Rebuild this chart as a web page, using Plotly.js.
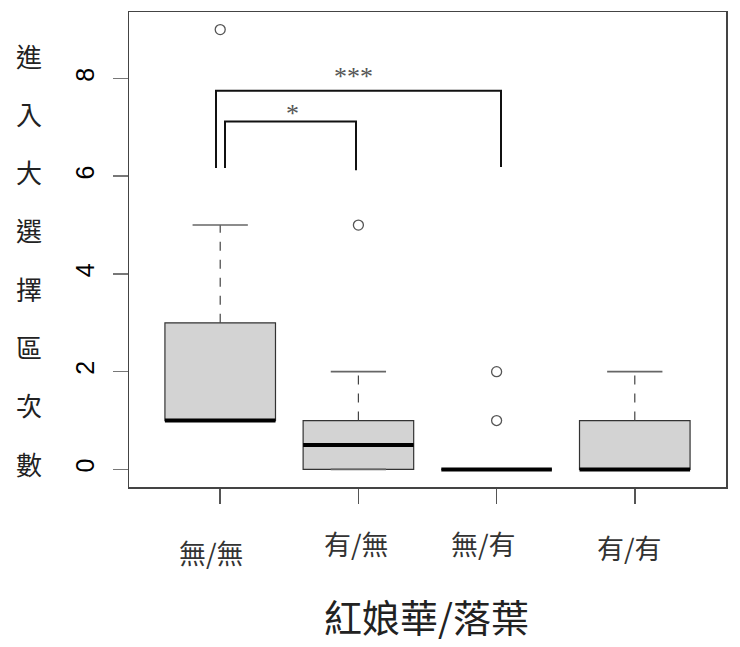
<!DOCTYPE html>
<html>
<head>
<meta charset="utf-8">
<script src="https://cdn.plot.ly/plotly-3.0.1.min.js"></script>
<style>
  html, body { margin: 0; padding: 0; background: #fff; }
  #plot { width: 740px; height: 647px; }
</style>
</head>
<body>
<div id="plot"></div>
<script>
// box summaries (R boxplot style)
let groups = ['無/無', '有/無', '無/有', '有/有'];
let q1 = [1, 0, 0, 0];
let medians = [1, 0.5, 0, 0];
let q3 = [3, 1, 0, 1];
let lowerWhisker = [1, 0, 0, 0];
let upperWhisker = [5, 2, 0, 2];
let outlierGroup = [1, 2, 3, 3];
let outlierValues = [9, 5, 1, 2];
let yTickVals = [0, 2, 4, 6, 8];
let yLabelChars = '進入大選擇區次數'.split('');
let xTitle = '紅娘華/落葉';
let sigLabels = ['*', '***'];

// plot area in pixels (frame box)
let plotLeft = 129, plotTop = 12, plotRight = 726, plotBottom = 487;
let plotW = plotRight - plotLeft;
let plotH = plotBottom - plotTop;
let xRange = [0.34, 4.66];
let px2x = px => (px - plotLeft) / plotW;
let px2y = py => (plotBottom - py) / plotH;
let px2data = px => xRange[0] + px2x(px) * (xRange[1] - xRange[0]);

let boxHalf = 0.4;
let capHalf = 0.2;
let cjk = '"Noto Sans CJK TC", "Noto Sans CJK SC", sans-serif';

let shapes = [];
groups.forEach((g, i) => {
  let x = i + 1;
  // box
  shapes.push({
    type: 'rect', xref: 'x', yref: 'y', layer: 'below',
    x0: x - boxHalf, x1: x + boxHalf, y0: q1[i], y1: q3[i],
    fillcolor: '#d3d3d3',
    line: { color: '#333', width: 1.2 }
  });
  // whiskers
  if (upperWhisker[i] > q3[i]) {
    shapes.push({
      type: 'line', xref: 'x', yref: 'y',
      x0: x, x1: x, y0: q3[i], y1: upperWhisker[i],
      line: { color: '#444', width: 1.2, dash: 'dash' }
    });
  }
  if (lowerWhisker[i] < q1[i]) {
    shapes.push({
      type: 'line', xref: 'x', yref: 'y',
      x0: x, x1: x, y0: lowerWhisker[i], y1: q1[i],
      line: { color: '#444', width: 1.2, dash: 'dash' }
    });
  }
  // staples
  [upperWhisker[i], lowerWhisker[i]].forEach(v => {
    shapes.push({
      type: 'line', xref: 'x', yref: 'y',
      x0: x - capHalf, x1: x + capHalf, y0: v, y1: v,
      line: { color: '#666', width: 1.6 }
    });
  });
  // median
  shapes.push({
    type: 'line', xref: 'x', yref: 'y',
    x0: x - boxHalf, x1: x + boxHalf, y0: medians[i], y1: medians[i],
    line: { color: '#000', width: 4 }
  });
});

// significance brackets
let brackets = [
  { x0: px2data(225), x1: px2data(356), yL: 6.17, yR: 6.12, top: 7.12 },
  { x0: px2data(216), x1: px2data(501), yL: 6.17, yR: 6.19, top: 7.75 }
];
brackets.forEach(b => {
  shapes.push({
    type: 'path', xref: 'x', yref: 'y',
    path: 'M ' + b.x0 + ',' + b.yL + ' L ' + b.x0 + ',' + b.top +
          ' L ' + b.x1 + ',' + b.top + ' L ' + b.x1 + ',' + b.yR,
    line: { color: '#111', width: 2 }
  });
});

let annotations = [];
// star labels
let starPos = [[292, 114], [353, 77]];
sigLabels.forEach((s, i) => {
  annotations.push({
    xref: 'paper', yref: 'paper',
    x: px2x(starPos[i][0]), y: px2y(starPos[i][1]),
    text: s, showarrow: false, xanchor: 'center', yanchor: 'middle',
    font: { family: '"Liberation Serif", "DejaVu Serif", serif', size: 26, color: '#555' }
  });
});

// vertical y label, one character per line
yLabelChars.forEach((c, i) => {
  annotations.push({
    xref: 'paper', yref: 'paper',
    x: px2x(29), y: px2y(55 + i * 58.3),
    text: c, showarrow: false, xanchor: 'center', yanchor: 'middle',
    font: { family: cjk, size: 26, color: '#222' }
  });
});

// category labels (hand placed in the original)
let labelPx = [[211, 552], [356, 543], [484, 543], [629, 547]];
groups.forEach((g, i) => {
  annotations.push({
    xref: 'paper', yref: 'paper',
    x: px2x(labelPx[i][0]), y: px2y(labelPx[i][1]),
    text: g, showarrow: false, xanchor: 'center', yanchor: 'middle',
    font: { family: cjk, size: 27, color: '#333' }
  });
});

// x title
annotations.push({
  xref: 'paper', yref: 'paper',
  x: px2x(426), y: px2y(615),
  text: xTitle, showarrow: false, xanchor: 'center', yanchor: 'middle',
  font: { family: cjk, size: 38, color: '#222' }
});

let outliers = {
  x: outlierGroup,
  y: outlierValues,
  type: 'scatter',
  mode: 'markers',
  marker: { symbol: 'circle-open', size: 10, color: '#555', line: { width: 1.3, color: '#555' } },
  hoverinfo: 'skip',
  showlegend: false
};

let layout = {
  width: 740,
  height: 647,
  margin: { l: plotLeft, r: 740 - plotRight, t: plotTop, b: 647 - plotBottom },
  paper_bgcolor: '#fff',
  plot_bgcolor: '#fff',
  showlegend: false,
  xaxis: {
    range: xRange,
    tickvals: [1, 2, 3, 4],
    showticklabels: false,
    ticks: 'outside', ticklen: 15, tickwidth: 1.5, tickcolor: '#555',
    showline: true, mirror: true, linecolor: '#444', linewidth: 1.5,
    showgrid: false, zeroline: false
  },
  yaxis: {
    range: [-0.36, 9.36],
    tickvals: yTickVals,
    tickangle: -90,
    ticklabelstandoff: 9,
    tickfont: { family: '"Liberation Sans", Arial, sans-serif', size: 25, color: '#000' },
    ticks: 'outside', ticklen: 15, tickwidth: 1.5, tickcolor: '#777',
    showline: true, mirror: true, linecolor: '#444', linewidth: 1.5,
    showgrid: false, zeroline: false
  },
  shapes: shapes,
  annotations: annotations
};

Plotly.newPlot('plot', [outliers], layout, { staticPlot: true });
</script>
</body>
</html>
